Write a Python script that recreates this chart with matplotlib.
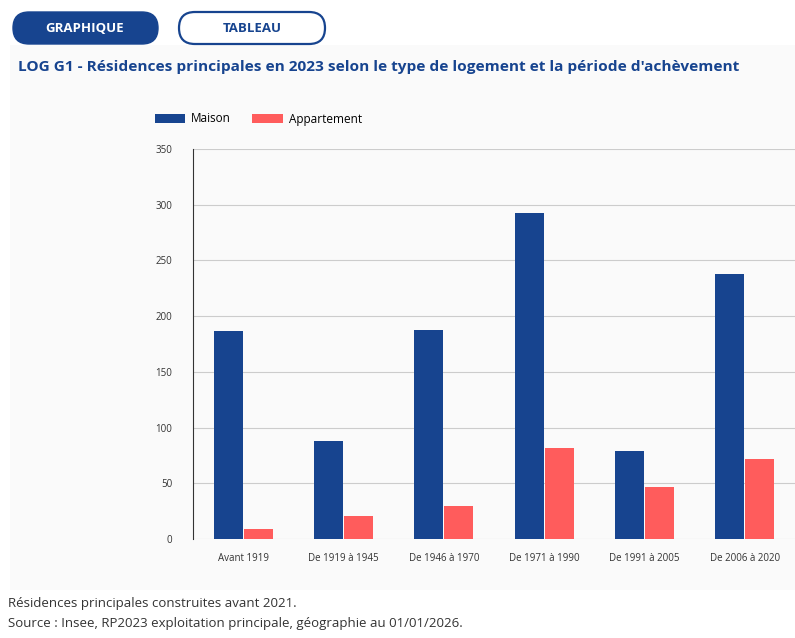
import matplotlib
matplotlib.use("Agg")
import matplotlib.pyplot as plt
import numpy as np
from matplotlib.patches import FancyBboxPatch, Rectangle

periodes = ["Avant 1919", "De 1919 à 1945", "De 1946 à 1970", "De 1971 à 1990", "De 1991 à 2005", "De 2006 à 2020"]
maison = [187, 88, 188, 293, 79, 238]
appartement = [9, 21, 30, 82, 47, 72]
yticks = [0, 50, 100, 150, 200, 250, 300, 350]

bleu = "#17448f"
rouge = "#ff5c5c"
W, H = 795, 638
fig = plt.figure(figsize=(W / 100, H / 100), dpi=100)
fig.patch.set_facecolor("white")

def fx(px): return px / W
def fy(py): return 1 - py / H

# calque en pixels pour le fond et les onglets
bg = fig.add_axes([0, 0, 1, 1], zorder=0)
bg.set_xlim(0, W)
bg.set_ylim(H, 0)
bg.axis("off")
bg.add_patch(Rectangle((10, 45), 785, 545, facecolor="#fafafa", edgecolor="none"))
bg.add_patch(FancyBboxPatch((13, 12), 145, 32, boxstyle="round,pad=0,rounding_size=16",
                            facecolor=bleu, edgecolor=bleu))
bg.add_patch(FancyBboxPatch((179, 12), 146, 32, boxstyle="round,pad=0,rounding_size=16",
                            facecolor="white", edgecolor=bleu, lw=1.6))
bg.text(85, 28, "GRAPHIQUE", color="white", fontsize=9.5, fontweight="bold", ha="center", va="center", family="Open Sans")
bg.text(252, 28, "TABLEAU", color=bleu, fontsize=9.5, fontweight="bold", ha="center", va="center", family="Open Sans")
bg.text(18, 67, "LOG G1 - Résidences principales en 2023 selon le type de logement et la période d'achèvement",
        color=bleu, fontsize=11.1, fontweight="bold", va="center", family="Open Sans")
bg.text(8, 603, "Résidences principales construites avant 2021.", fontsize=9.5, color="#333333", va="center", family="Open Sans")
bg.text(8, 624, "Source : Insee, RP2023 exploitation principale, géographie au 01/01/2026.", fontsize=9.5, color="#333333", va="center", family="Open Sans")

ax = fig.add_axes([fx(193), fy(539), fx(602), 390 / H], zorder=2)
ax.set_facecolor("none")
x = np.arange(len(periodes))
w = 0.29
ax.bar(x - w / 2 - 0.005, maison, w, color=bleu, label="Maison", zorder=3)
ax.bar(x + w / 2 + 0.005, appartement, w, color=rouge, label="Appartement", zorder=3)
ax.set_xlim(-0.5, len(periodes) - 0.5)
ax.set_ylim(0, 350)
ax.set_yticks(yticks)
ax.set_xticks(x, periodes)
ax.tick_params(axis="both", labelsize=7, length=0, colors="#333333")
ax.tick_params(axis="x", pad=10)
ax.tick_params(axis="y", pad=15)
ax.grid(axis="y", color="#cccccc", lw=0.8, zorder=0)
for s in ["top", "right", "bottom"]:
    ax.spines[s].set_visible(False)
ax.spines["left"].set_color("#333333")
for lab in ax.get_xticklabels() + ax.get_yticklabels():
    lab.set_family("Open Sans")

ax.legend(loc="center left", bbox_to_anchor=(fx(144), fy(119)), bbox_transform=fig.transFigure,
          ncol=2, frameon=False, handlelength=2.6, handleheight=0.9, columnspacing=1.8, handletextpad=0.5,
          prop={"family": "Open Sans", "size": 8.5})

fig.savefig("out.png", dpi=100)
